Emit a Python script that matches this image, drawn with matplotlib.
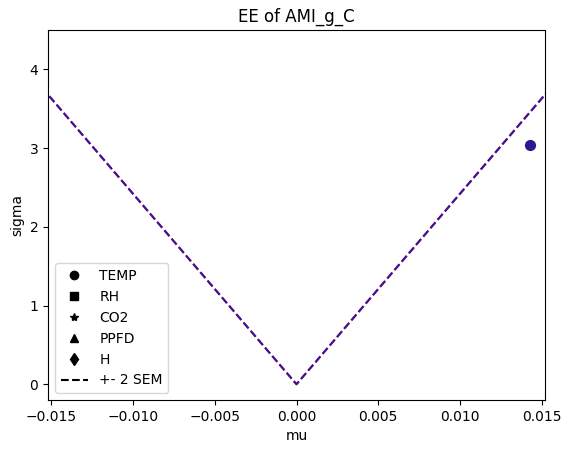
import matplotlib
matplotlib.use("Agg")
import matplotlib.pyplot as plt
from matplotlib.lines import Line2D

mu_vals = [0.0143]
sigma_vals = [3.04]
sem_x = [-0.02, 0.0, 0.02]
sem_y = [4.84, 0.0, 4.84]
labels = ["TEMP", "RH", "CO2", "PPFD", "H"]
markers = ["o", "s", "*", "^", "d"]

fig = plt.figure(figsize=(5.72, 4.53), dpi=100)
ax = fig.add_axes([48/572, 1-400/453, 497/572, 370/453])
ax.plot(sem_x, sem_y, "--", color="#d62728", lw=1.5)
ax.plot(sem_x, sem_y, "--", color="#2010b0", lw=1.5, alpha=0.85)
ax.scatter(mu_vals, sigma_vals, s=50, color="#2a1a8e", zorder=3)
ax.set_xlim(-0.0152, 0.0152)
ax.set_ylim(-0.2, 4.5)
ax.set_xlabel("mu")
ax.set_ylabel("sigma")
ax.set_title("EE of AMI_g_C")
handles = [Line2D([], [], marker=m, color="k", ls="none") for m in markers]
handles.append(Line2D([], [], color="k", ls="--"))
ax.legend(handles, labels + ["+- 2 SEM"], loc="lower left")
fig.savefig("out.png", dpi=100)
